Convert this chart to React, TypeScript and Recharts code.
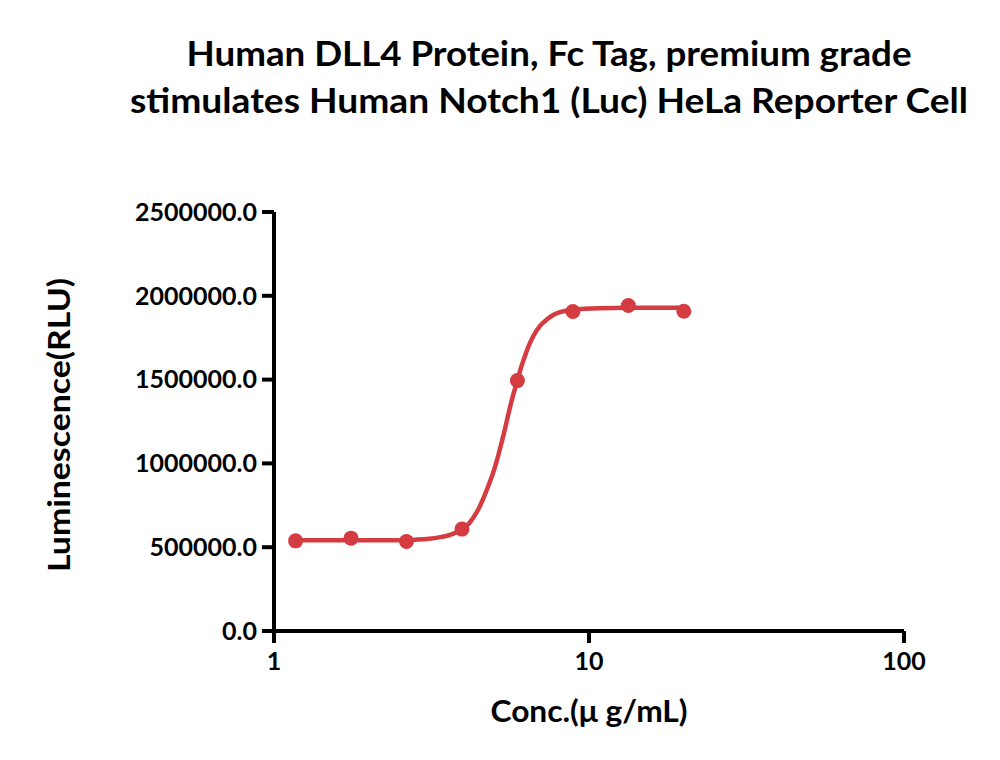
import React from "react";
import { ComposedChart, Line, Scatter, XAxis, YAxis } from "recharts";

const TITLE_LINES = [
  "Human DLL4 Protein, Fc Tag, premium grade",
  "stimulates Human Notch1 (Luc) HeLa Reporter Cell",
];
const X_LABEL = "Conc.(\u03bc g/mL)";
const Y_LABEL = "Luminescence(RLU)";

const X_TICKS = [1, 10, 100];
const Y_TICKS = [0, 500000, 1000000, 1500000, 2000000, 2500000];

// measured points
const concentrations = [1.171, 1.756, 2.634, 3.951, 5.926, 8.889, 13.33, 20];
const luminescence = [538000, 554000, 534000, 608000, 1494000, 1906000, 1942000, 1908000];

// fitted curve
const curveConc = [1.171, 1.6, 2.0, 2.4, 2.8, 3.1, 3.37, 3.7, 3.95, 4.15, 4.29, 4.45, 4.62, 4.8, 4.97, 5.13, 5.28, 5.41, 5.54, 5.72, 5.92, 6.08, 6.26, 6.45, 6.66, 7.0, 7.34, 7.7, 8.09, 8.87, 10.8, 13.33, 16.0, 20];
const curveLum = [541000, 541000, 541000, 542000, 545000, 550000, 560000, 580000, 607000, 640000, 676000, 725000, 792000, 870000, 948000, 1035000, 1125000, 1205000, 1290000, 1395000, 1492000, 1570000, 1640000, 1705000, 1760000, 1822000, 1858000, 1885000, 1902000, 1916000, 1926000, 1928000, 1928000, 1928000];

const points = concentrations.map((x, i) => ({ x, y: luminescence[i] }));
const curve = curveConc.map((x, i) => ({ x, y: curveLum[i] }));

const RED = "#d43c41";
const FONT = "Lato, 'Open Sans', sans-serif";

const Dot = (props: any) => {
  const { cx, cy } = props;
  return <circle cx={cx} cy={cy} r={7.5} fill={RED} />;
};

export default function App() {
  return (
    <div style={{ position: "absolute", left: 0, top: 0, width: 1000, height: 760, background: "#fff" }}>
      <ComposedChart
        width={1000}
        height={760}
        margin={{ top: 212, right: 96, bottom: 69, left: 114 }}
      >
        <XAxis
          dataKey="x"
          type="number"
          scale="log"
          domain={[1, 100]}
          ticks={X_TICKS}
          allowDataOverflow
          height={60}
          axisLine={{ stroke: "#000", strokeWidth: 4 }}
          tickLine={{ stroke: "#000", strokeWidth: 4 }}
          tickSize={12}
          tickMargin={9}
          tick={{ fill: "#000", fontSize: 25, fontWeight: 700, fontFamily: FONT }}
        />
        <YAxis
          dataKey="y"
          type="number"
          domain={[0, 2500000]}
          ticks={Y_TICKS}
          allowDataOverflow
          width={160}
          axisLine={{ stroke: "#000", strokeWidth: 4 }}
          tickLine={{ stroke: "#000", strokeWidth: 4 }}
          tickSize={12}
          tickMargin={5}
          tickFormatter={(v: number) => v.toFixed(1)}
          tick={{ fill: "#000", fontSize: 25, fontWeight: 700, fontFamily: FONT }}
        />
        <Line
          data={curve}
          dataKey="y"
          type="monotone"
          stroke={RED}
          strokeWidth={4.5}
          dot={false}
          activeDot={false}
          isAnimationActive={false}
        />
        <Scatter data={points} dataKey="y" fill={RED} shape={Dot} isAnimationActive={false} />
      </ComposedChart>
      <svg
        width={1000}
        height={760}
        style={{ position: "absolute", left: 0, top: 0, pointerEvents: "none" }}
      >
        <text x={549} y={66} textAnchor="middle" fontFamily={FONT} fontWeight={700} fontSize={34} fill="#000"
          textLength={725} lengthAdjust="spacingAndGlyphs">
          {TITLE_LINES[0]}
        </text>
        <text x={549} y={113} textAnchor="middle" fontFamily={FONT} fontWeight={700} fontSize={34} fill="#000"
          textLength={838} lengthAdjust="spacingAndGlyphs">
          {TITLE_LINES[1]}
        </text>
        <text x={589} y={722} textAnchor="middle" fontFamily={FONT} fontWeight={700} fontSize={30} fill="#000"
          textLength={197} lengthAdjust="spacingAndGlyphs">
          {X_LABEL}
        </text>
        <text
          x={0}
          y={0}
          transform="translate(70,425) rotate(-90)"
          textAnchor="middle"
          fontFamily={FONT}
          fontWeight={700}
          fontSize={31}
          fill="#000"
          textLength={294}
          lengthAdjust="spacingAndGlyphs"
        >
          {Y_LABEL}
        </text>
      </svg>
    </div>
  );
}
